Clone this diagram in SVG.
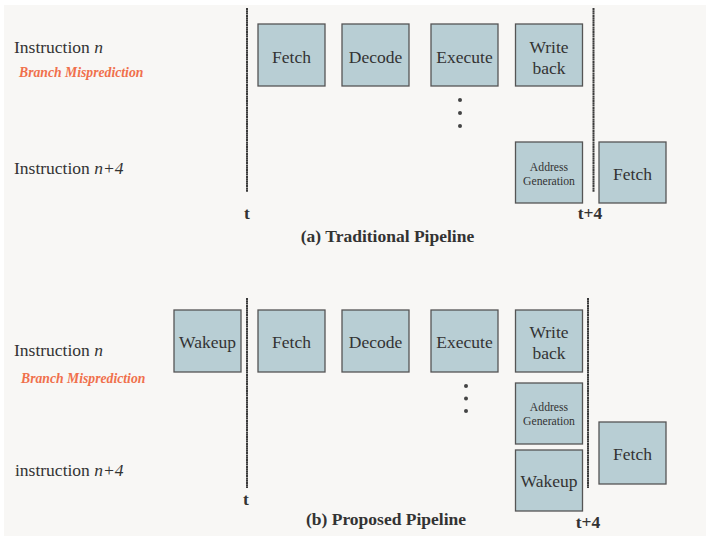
<svg xmlns="http://www.w3.org/2000/svg" width="707" height="536" viewBox="0 0 707 536" font-family="Liberation Serif, DejaVu Serif, serif">
<style>
text{fill:#333}
.box{fill:#b8ced4;stroke:#555;stroke-width:1.3}
.lbl{font-size:17.5px;text-anchor:middle}
.sm{font-size:11.7px;text-anchor:middle}
.ins{font-size:17.5px}
.bm{font-size:13.7px;font-weight:bold;font-style:italic;fill:#f0704c}
.t{font-size:17.5px;font-weight:bold;text-anchor:middle}
.cap{font-size:17.5px;font-weight:bold;text-anchor:middle}
.vl{stroke:#3a3a3a;stroke-width:2;stroke-dasharray:2 0.3}
.dot{fill:#444}
</style>
<rect x="4" y="5" width="702" height="531" fill="#f8f7f5"/>

<!-- (a) Traditional Pipeline -->
<g id="a-labels">
<text class="ins" x="14" y="53">Instruction <tspan font-style="italic">n</tspan></text>
<text class="bm" x="19" y="77">Branch Misprediction</text>
<text class="ins" x="14" y="174">Instruction <tspan font-style="italic">n+4</tspan></text>
</g>
<g id="a-timelines">
<line class="vl" x1="247" y1="8" x2="247" y2="192"/>
<line class="vl" x1="593.5" y1="8" x2="593.5" y2="192"/>
<text class="t" x="247" y="219">t</text>
<text class="t" x="590" y="219">t+4</text>
</g>
<g id="a-fetch"><rect class="box" x="258" y="24" width="67" height="62"/><text class="lbl" x="291.5" y="62.5">Fetch</text></g>
<g id="a-decode"><rect class="box" x="342" y="24" width="67" height="62"/><text class="lbl" x="375.5" y="62.5">Decode</text></g>
<g id="a-execute"><rect class="box" x="431" y="24" width="67" height="62"/><text class="lbl" x="464.5" y="62.5">Execute</text></g>
<g id="a-writeback"><rect class="box" x="515.5" y="24" width="67" height="62"/><text class="lbl" x="549" y="52.5">Write</text><text class="lbl" x="549" y="73.5">back</text></g>
<g id="a-dots"><circle class="dot" cx="460" cy="100" r="2"/><circle class="dot" cx="460" cy="113" r="2"/><circle class="dot" cx="460" cy="126" r="2"/></g>
<g id="a-addrgen"><rect class="box" x="515.5" y="142" width="67" height="61"/><text class="sm" x="549" y="171">Address</text><text class="sm" x="549" y="185">Generation</text></g>
<g id="a-fetch2"><rect class="box" x="599" y="142" width="67" height="61"/><text class="lbl" x="632.5" y="180">Fetch</text></g>
<text class="cap" x="387.5" y="242">(a) Traditional Pipeline</text>

<!-- (b) Proposed Pipeline -->
<g id="b-labels">
<text class="ins" x="14" y="355.5">Instruction <tspan font-style="italic">n</tspan></text>
<text class="bm" x="21" y="383">Branch Misprediction</text>
<text class="ins" x="15" y="476">instruction <tspan font-style="italic">n+4</tspan></text>
</g>
<g id="b-timelines">
<line class="vl" x1="247" y1="298" x2="247" y2="488"/>
<line class="vl" x1="588" y1="298" x2="588" y2="488"/>
<text class="t" x="246" y="505">t</text>
<text class="t" x="588" y="528">t+4</text>
</g>
<g id="b-wakeup"><rect class="box" x="174" y="310" width="67" height="62"/><text class="lbl" x="207.5" y="348.3">Wakeup</text></g>
<g id="b-fetch"><rect class="box" x="258" y="310" width="67" height="62"/><text class="lbl" x="291.5" y="348.3">Fetch</text></g>
<g id="b-decode"><rect class="box" x="342" y="310" width="67" height="62"/><text class="lbl" x="375.5" y="348.3">Decode</text></g>
<g id="b-execute"><rect class="box" x="431" y="310" width="67" height="62"/><text class="lbl" x="464.5" y="348.3">Execute</text></g>
<g id="b-writeback"><rect class="box" x="515.5" y="310" width="67" height="62"/><text class="lbl" x="549" y="337.5">Write</text><text class="lbl" x="549" y="358.5">back</text></g>
<g id="b-dots"><circle class="dot" cx="466" cy="386" r="2"/><circle class="dot" cx="466" cy="398.5" r="2"/><circle class="dot" cx="466" cy="411" r="2"/></g>
<g id="b-addrgen"><rect class="box" x="515.5" y="383" width="67" height="61"/><text class="sm" x="549" y="411">Address</text><text class="sm" x="549" y="425">Generation</text></g>
<g id="b-wakeup2"><rect class="box" x="515.5" y="450" width="67" height="61"/><text class="lbl" x="549" y="487.3">Wakeup</text></g>
<g id="b-fetch2"><rect class="box" x="599" y="422" width="67" height="62"/><text class="lbl" x="632.5" y="460">Fetch</text></g>
<text class="cap" x="386" y="525">(b) Proposed Pipeline</text>
</svg>
